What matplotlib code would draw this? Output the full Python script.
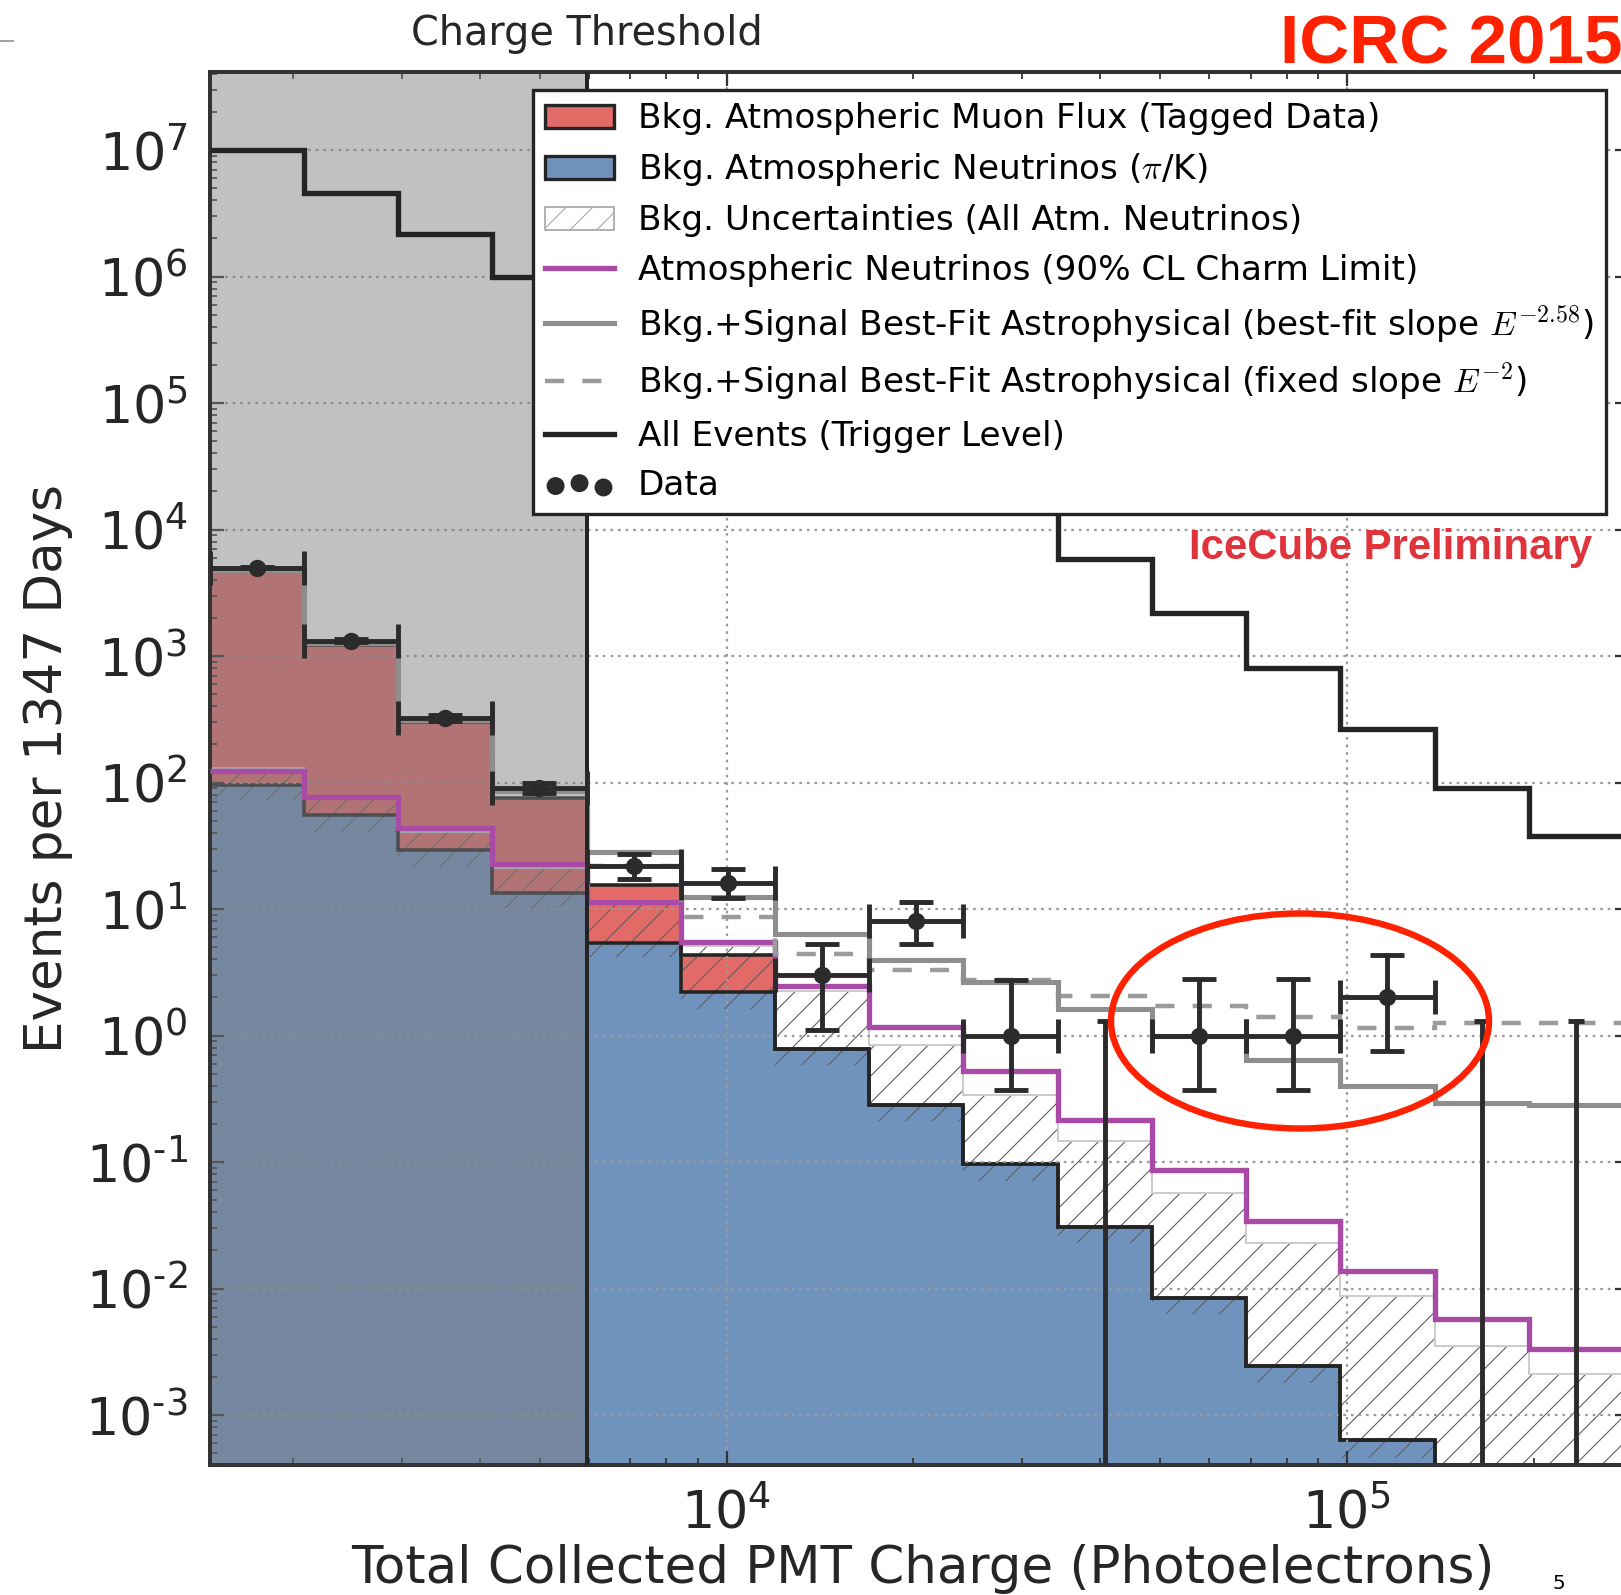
import numpy as np
import matplotlib
matplotlib.use('Agg')
import matplotlib.pyplot as plt
from matplotlib.patches import Patch, Ellipse
from matplotlib.lines import Line2D
from matplotlib.ticker import LogLocator, NullFormatter, FuncFormatter

# bin edges in total collected charge (PE), 15 bins
edges = [1470, 2080, 2950, 4190, 5950, 8440, 11970, 16980, 24090,
         34180, 48500, 68800, 97600, 138500, 196500, 278800]
threshold = 5950

# events per bin
trigger = [1.0e7, 4.6e6, 2.16e6, 1.0e6, 4.3e5, 1.8e5, 7.8e4, 3.2e4, 1.6e4,
           5.9e3, 2.2e3, 800, 266, 91, 38]
muon = [4600, 1175, 270, 62, 10, 2.1, 0, 0, 0, 0, 0, 0, 0, 0, 0]
conv_nu = [96, 55, 29.5, 13.4, 5.4, 2.2, 0.79, 0.285, 0.096, 0.0305,
           0.0084, 0.00245, 0.00063, 0.0002, 0.00015]
unc_lo = [73, 41, 21.7, 10, 4.15, 1.62, 0.59, 0.21, 0.071, 0.0228,
          0.0063, 0.0018, 0.00046, 0.0001, 0.0001]
unc_hi = [130, 75, 41, 21.3, 11, 5.1, 2.26, 0.84, 0.34, 0.146,
          0.057, 0.023, 0.0087, 0.0035, 0.0021]
charm = [124, 77, 44, 22.8, 11.3, 5.45, 2.48, 1.17, 0.52, 0.216,
         0.086, 0.0345, 0.0137, 0.0057, 0.0033]
best_fit = [4800, 1260, 310, 85, 28.5, 12.5, 6.35, 3.95, 2.65, 1.63,
            1.0, 0.64, 0.40, 0.295, 0.285]
fixed_e2 = [4800, 1260, 310, 85, 22, 8.6, 4.4, 3.3, 2.75, 2.07,
            1.7, 1.4, 1.14, 1.26, 1.26]
data = [5000, 1320, 325, 91, 22, 16, 3, 8, 1, 0, 1, 1, 2, 0, 0]
data_lo = [4930, 1284, 307, 82, 17.3, 12.3, 1.1, 5.3, 0.37, 0, 0.37, 0.37, 0.76, 0, 0]
data_hi = [5070, 1356, 343, 100, 27.2, 20.6, 5.3, 11.3, 2.75, 1.3, 2.8, 2.8, 4.35, 1.3, 1.3]

x_ticks = [1e4, 1e5]
y_ticks = [1e-3, 1e-2, 1e-1, 1e0, 1e1, 1e2, 1e3, 1e4, 1e5, 1e6, 1e7]

RED = '#e26a67'
BLUE = '#7093bd'
MAGENTA = '#a84aa6'
GRAY = '#8e8e8e'
DARK = '#242424'

plt.rcParams['font.family'] = ['DejaVu Sans']
plt.rcParams['mathtext.fontset'] = 'cm'
plt.rcParams['hatch.linewidth'] = 0.5

DPI = 160
W, H = 1621, 1595
fig = plt.figure(figsize=(W / DPI, H / DPI), dpi=DPI)
ax = fig.add_axes([210 / W, 1 - 1465 / H, 1419 / W, 1393 / H])
ax.set_xscale('log')
ax.set_yscale('log')

e = np.array(edges, float)
blue = np.array(conv_nu)
top = blue + np.array(muon)

# stacked backgrounds
ax.stairs(blue, e, baseline=1e-6, fill=True, color=BLUE, lw=0, zorder=1)
ax.stairs(top, e, baseline=blue, fill=True, color=RED, lw=0, zorder=1)
ax.stairs(unc_hi, e, baseline=unc_lo, fill=True, facecolor='none',
          edgecolor='#606060', hatch='//', lw=0, zorder=1.3)
ax.stairs(unc_hi, e, baseline=None, color='#cccccc', lw=0.9, zorder=1.4)
ax.stairs(blue, e, baseline=None, color=DARK, lw=1.6, zorder=1.5)
ax.stairs(top, e, baseline=None, color=DARK, lw=1.6, zorder=1.5)

# region below charge threshold
ax.axvspan(e[0], threshold, color='#7d7e82', alpha=0.48, lw=0, zorder=2)

# model lines
ax.stairs(charm, e, baseline=None, color=MAGENTA, lw=2.4, zorder=3)
ax.stairs(fixed_e2, e, baseline=None, color='#9b9b9b', lw=2.0,
          ls=(0, (4.3, 4.1)), zorder=3)
ax.stairs(best_fit, e, baseline=None, color=GRAY, lw=2.3, zorder=3)
ax.stairs(trigger, e, baseline=None, color=DARK, lw=2.4, zorder=3.2)
ax.axvline(threshold, color=DARK, lw=1.8, zorder=3.2)

ax.set_xlim(1470, 2.85e5)
ax.set_ylim(4.03e-4, 4.14e7)

# data points
d = np.array(data, float)
lo = np.array(data_lo)
hi = np.array(data_hi)
c = np.sqrt(e[:-1] * e[1:])
m = d > 0
ax.errorbar(c[m], d[m], xerr=[c[m] - e[:-1][m], e[1:][m] - c[m]],
            yerr=[d[m] - lo[m], hi[m] - d[m]], fmt='o', color='#2b2b2b',
            ms=6.8, lw=2.2, capsize=7.5, capthick=2.2, zorder=4)
z = ~m
ax.vlines(c[z], ax.get_ylim()[0], hi[z], color='#2b2b2b', lw=2.2, zorder=4)
ax.plot(c[z], hi[z], ls='none', marker='_', ms=7.5, mew=2.2, color='#2b2b2b', zorder=4)


def pow10(v, pos):
    p = int(round(np.log10(v)))
    return r'$\mathdefault{10^{%s}}$' % str(p).replace('-', '\u2010')


# axes styling
ax.set_xticks(x_ticks)
ax.set_yticks(y_ticks)
ax.xaxis.set_major_formatter(FuncFormatter(pow10))
ax.yaxis.set_major_formatter(FuncFormatter(pow10))
ax.yaxis.set_minor_locator(LogLocator(base=10, subs=np.arange(2, 10), numticks=20))
ax.xaxis.set_minor_formatter(NullFormatter())
ax.yaxis.set_minor_formatter(NullFormatter())
ax.tick_params(which='both', direction='in', top=True, right=True, color='#333333')
ax.tick_params(which='major', length=6.5, width=1.0, labelsize=23.5, labelcolor='#262626')
ax.tick_params(which='minor', length=3.3, width=0.8)
ax.tick_params(axis='y', pad=10)
ax.tick_params(axis='x', pad=10.5)
for s in ax.spines.values():
    s.set_linewidth(1.8)
    s.set_color('#333333')
ax.grid(True, which='major', color='#9a9a9a', lw=1.0, ls=(0, (1.2, 2.2)))

ax.set_xlabel('Total Collected PMT Charge (Photoelectrons)', fontsize=23.2, color='#262626')
ax.set_ylabel('Events per 1347 Days', fontsize=23.2, color='#262626')
ax.xaxis.label.set_va('center')
ax.yaxis.label.set_va('center')
ax.xaxis.set_label_coords(0.5025, -0.0745)
ax.yaxis.set_label_coords(-0.1145, 0.5)

ax.text(threshold, 1.027, 'Charge Threshold', transform=ax.get_xaxis_transform(),
        ha='center', va='center', fontsize=17.9, color='#262626')

# legend
handles = [
    Patch(facecolor=RED, edgecolor=DARK, lw=1.5),
    Patch(facecolor=BLUE, edgecolor=DARK, lw=1.5),
    Patch(facecolor='white', edgecolor='#aaaaaa', hatch='//', lw=0.8),
    Line2D([], [], color=MAGENTA, lw=2.4),
    Line2D([], [], color=GRAY, lw=2.3),
    Line2D([], [], color='#9b9b9b', lw=2.0, ls=(0, (4.3, 4.1))),
    Line2D([], [], color=DARK, lw=2.4),
    ax.scatter([], [], s=50, color='#2b2b2b'),
]
labels = [
    'Bkg. Atmospheric Muon Flux (Tagged Data)',
    r'Bkg. Atmospheric Neutrinos ($\pi$/K)',
    'Bkg. Uncertainties (All Atm. Neutrinos)',
    'Atmospheric Neutrinos (90% CL Charm Limit)',
    r'Bkg.+Signal Best-Fit Astrophysical (best-fit slope $E^{-2.58}$)',
    r'Bkg.+Signal Best-Fit Astrophysical (fixed slope $E^{-2}$)',
    'All Events (Trigger Level)',
    'Data',
]
leg = ax.legend(handles, labels, loc='upper right',
                bbox_to_anchor=(1606 / W, 1 - 90 / H), bbox_transform=fig.transFigure,
                borderaxespad=0, fontsize=15.4, fancybox=False, framealpha=1,
                edgecolor=DARK, handlelength=2.0, handleheight=0.65,
                handletextpad=0.7, labelspacing=0.47, borderpad=0.36,
                scatterpoints=3)
leg.get_frame().set_linewidth(1.5)
leg.set_zorder(10)

# annotations on the slide
fig.text(1189 / W, 1 - 559 / H, 'IceCube Preliminary', color='#e0343c', fontsize=18.9,
         family='Liberation Sans', weight='bold', va='baseline')
fig.text(1280 / W, 1 - 63.3 / H, 'ICRC 2015', color='#ff2200', fontsize=31.2,
         family='Liberation Sans', weight='bold', va='baseline')
fig.add_artist(Ellipse((1300 / W, 1 - 1021 / H), 378 / W, 215 / H,
                       transform=fig.transFigure, fill=False, ec='#ff2200', lw=2.9))
fig.add_artist(Line2D([0, 13 / W], [1 - 41 / H, 1 - 41 / H], color='#999999', lw=0.8))
fig.text(1552 / W, 1 - 1574 / H, '5', fontsize=9, va='top', color='black')

fig.savefig('out.png', dpi=DPI)
